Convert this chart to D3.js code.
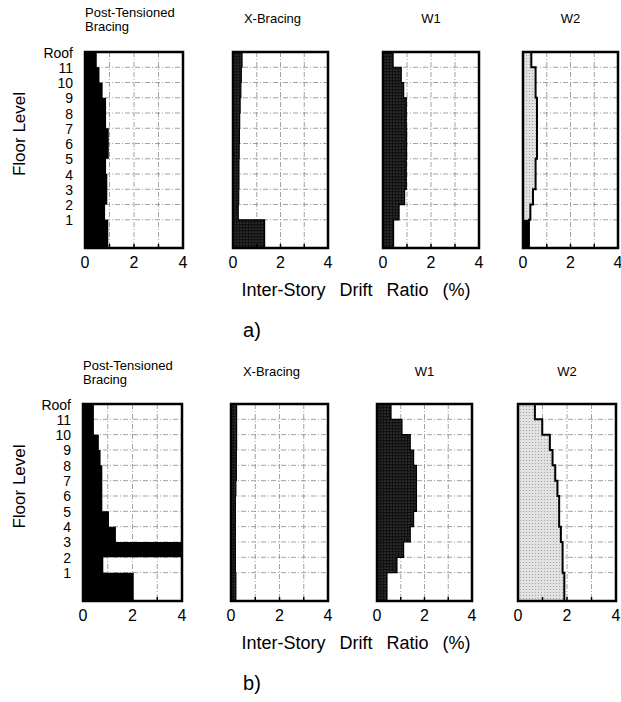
<!DOCTYPE html>
<html>
<head>
<meta charset="utf-8">
<script src="https://cdn.jsdelivr.net/npm/d3@7"></script>
<style>
  body { margin: 0; background: #fff; }
  svg { font-family: "Liberation Sans", Arial, sans-serif; }
</style>
</head>
<body>
<svg id="chart" width="621" height="702"></svg>
<script>
// floor levels (ground, 1..11, roof) and their elevation in story units (first story is taller)
const levelNames = ["", "1", "2", "3", "4", "5", "6", "7", "8", "9", "10", "11", "Roof"];
const levelElev = [0, 1.85, 2.85, 3.85, 4.85, 5.85, 6.85, 7.85, 8.85, 9.85, 10.85, 11.85, 12.85];
const xTicks = [0, 2, 4];
const gridX = [1, 2, 3];
const systems = [["Post-Tensioned", "Bracing"], ["X-Bracing"], ["W1"], ["W2"]];

// inter-story drift ratio (%), story 1 (bottom) .. story 12 (top)
const ptA = [0.95, 0.82, 0.91, 0.91, 0.86, 0.97, 0.97, 0.86, 0.86, 0.72, 0.59, 0.48];
const xbA = [1.33, 0.22, 0.24, 0.25, 0.25, 0.26, 0.27, 0.28, 0.30, 0.33, 0.35, 0.38];
const w1A = [0.44, 0.67, 0.90, 0.97, 0.97, 0.98, 0.98, 0.97, 0.97, 0.86, 0.76, 0.42];
const w2A = [0.25, 0.31, 0.42, 0.53, 0.53, 0.59, 0.59, 0.59, 0.59, 0.53, 0.53, 0.35];

const ptB = [2.05, 0.82, 4.00, 1.33, 1.05, 0.78, 0.78, 0.78, 0.71, 0.64, 0.44, 0.44];
const xbB = [0.20, 0.18, 0.18, 0.18, 0.18, 0.18, 0.20, 0.22, 0.22, 0.23, 0.23, 0.23];
const w1B = [0.42, 0.84, 1.12, 1.40, 1.54, 1.66, 1.66, 1.66, 1.54, 1.40, 1.05, 0.59];
const w2B = [1.89, 1.82, 1.82, 1.75, 1.68, 1.68, 1.61, 1.52, 1.41, 1.30, 0.99, 0.69];

// layout of the two rows of panels
const rows = [
  { tag: "a)", series: [ptA, xbA, w1A, w2A], top: 52, bottom: 248,
    lefts: [85, 233, 383, 523], rights: [183, 328, 479, 618], titleY: 23, firstBlack: true },
  { tag: "b)", series: [ptB, xbB, w1B, w2B], top: 404, bottom: 601,
    lefts: [83, 231, 377, 518], rights: [182, 328, 472, 616], titleY: 376, firstBlack: false }
];
const fills = ["#000", "url(#dark)", "url(#dark)", "url(#light)"];

const svg = d3.select("#chart");

// stipple patterns
const defs = svg.append("defs");
const dark = defs.append("pattern").attr("id", "dark")
  .attr("patternUnits", "userSpaceOnUse").attr("width", 3).attr("height", 3);
dark.append("rect").attr("width", 3).attr("height", 3).attr("fill", "#111");
dark.append("circle").attr("cx", 1).attr("cy", 1).attr("r", 0.55).attr("fill", "#777");
const light = defs.append("pattern").attr("id", "light")
  .attr("patternUnits", "userSpaceOnUse").attr("width", 3).attr("height", 3);
light.append("rect").attr("width", 3).attr("height", 3).attr("fill", "#e2e2e2");
light.append("circle").attr("cx", 1.5).attr("cy", 1.5).attr("r", 0.6).attr("fill", "#9a9a9a");

rows.forEach(function(row) {
  const y = d3.scaleLinear()
    .domain([0, d3.max(levelElev)])
    .range([row.bottom, row.top]);

  row.series.forEach(function(values, p) {
    const x = d3.scaleLinear().domain([0, 4]).range([row.lefts[p], row.rights[p]]).clamp(true);
    const g = svg.append("g");

    // dash-dot grid
    g.selectAll(".gx").data(gridX).join("line")
      .attr("x1", d => x(d)).attr("x2", d => x(d))
      .attr("y1", row.top).attr("y2", row.bottom)
      .attr("stroke", "#8a8a8a").attr("stroke-width", 0.8)
      .attr("stroke-dasharray", "5,2,1,2");
    g.selectAll(".gy").data(levelElev.slice(1, -1)).join("line")
      .attr("x1", x(0)).attr("x2", x(4))
      .attr("y1", d => y(d)).attr("y2", d => y(d))
      .attr("stroke", "#8a8a8a").attr("stroke-width", 0.8)
      .attr("stroke-dasharray", "5,2,1,2");

    // step profile
    const pts = [];
    values.forEach(function(v, i) {
      pts.push({ v: v, e: levelElev[i] });
      pts.push({ v: v, e: levelElev[i + 1] });
    });
    const area = d3.area().x0(x(0)).x1(d => x(d.v)).y(d => y(d.e));
    g.append("path").datum(pts).attr("d", area).attr("fill", fills[p]);

    if (p === 3 && row.firstBlack) {
      g.append("rect")
        .attr("x", x(0)).attr("width", x(values[0]) - x(0))
        .attr("y", y(levelElev[1])).attr("height", y(levelElev[0]) - y(levelElev[1]))
        .attr("fill", "#000");
    }
    if (p > 0) {
      const edge = d3.line().x(d => x(d.v)).y(d => y(d.e));
      g.append("path").datum(pts).attr("d", edge)
        .attr("fill", "none").attr("stroke", "#000")
        .attr("stroke-width", p === 3 ? 2 : 1.2);
    }

    // small ticks on the bottom axis
    g.selectAll(".tk").data(gridX).join("line")
      .attr("x1", d => x(d)).attr("x2", d => x(d))
      .attr("y1", row.bottom).attr("y2", row.bottom - 4)
      .attr("stroke", "#000").attr("stroke-width", 1.5);

    // frame
    g.append("rect")
      .attr("x", x(0)).attr("y", row.top)
      .attr("width", x(4) - x(0)).attr("height", row.bottom - row.top)
      .attr("fill", "none").attr("stroke", "#000").attr("stroke-width", 2.5);

    // x tick labels
    g.selectAll(".xl").data(xTicks).join("text")
      .attr("x", d => x(d)).attr("y", row.bottom + 20)
      .attr("text-anchor", "middle").attr("font-size", 16)
      .text(d => d);

    // title
    const t = systems[p];
    if (t.length > 1) {
      g.selectAll(".ti").data(t).join("text")
        .attr("x", x(0)).attr("y", (d, i) => row.titleY - 6 + i * 14)
        .attr("font-size", 13).text(d => d);
    } else {
      g.append("text")
        .attr("x", (x(0) + x(4)) / 2 - (p === 1 ? 8 : 0)).attr("y", row.titleY)
        .attr("text-anchor", "middle").attr("font-size", 13).text(t[0]);
    }

    // floor labels on the first panel
    if (p === 0) {
      g.selectAll(".yl").data(levelElev.slice(1)).join("text")
        .attr("x", row.lefts[0] - 12).attr("y", d => y(d) + 5.5)
        .attr("text-anchor", "end").attr("font-size", 14)
        .text((d, i) => levelNames[i + 1]);
    }
  });

  // axis titles
  const mid = (row.top + row.bottom) / 2;
  svg.append("text")
    .attr("transform", "translate(25," + (mid - 16) + ") rotate(-90)")
    .attr("text-anchor", "middle").attr("font-size", 17)
    .text("Floor Level");
  svg.append("text")
    .attr("x", 356).attr("y", row.bottom + 48)
    .attr("text-anchor", "middle").attr("font-size", 18)
    .attr("word-spacing", 9)
    .text("Inter-Story Drift Ratio (%)");
  svg.append("text")
    .attr("x", 252).attr("y", row.bottom + 89)
    .attr("text-anchor", "middle").attr("font-size", 20)
    .text(row.tag);
});
</script>
</body>
</html>
